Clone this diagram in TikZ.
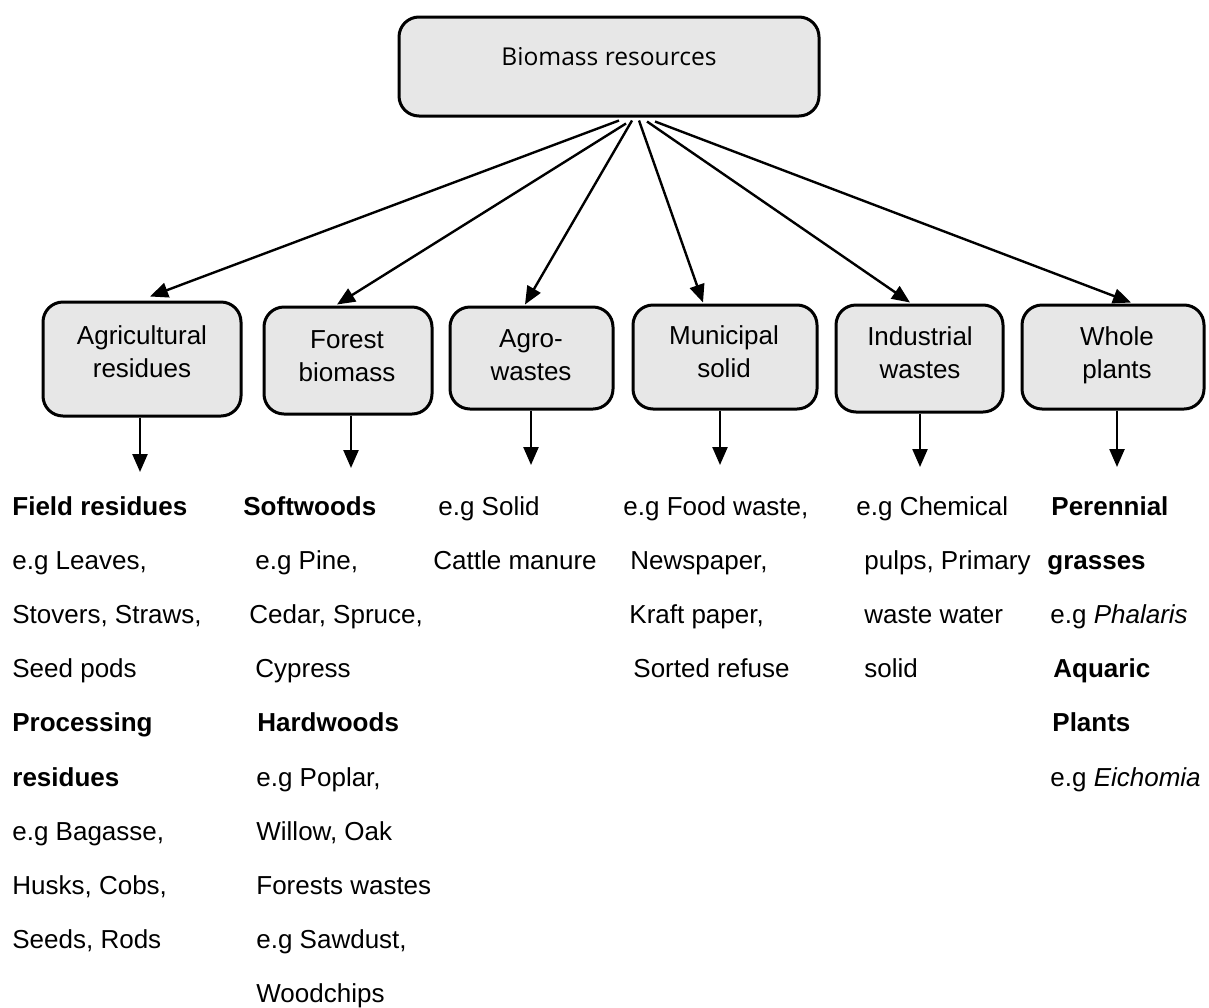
\documentclass[tikz,border=0pt]{standalone}
\usepackage{fontspec}
\setmainfont{Liberation Sans}
\newfontfamily\osans{Open Sans}
\usetikzlibrary{arrows.meta}
\definecolor{boxgray}{RGB}{231,231,231}
\begin{document}
\begin{tikzpicture}[x=0.5pt,y=-0.5pt,
  bx/.style={draw=black, line width=1.5pt, fill=boxgray, rounded corners=10pt, inner sep=0pt},
  btxt/.style={align=center, inner sep=0pt, font=\fontsize{13}{16.5}\selectfont},
  ltxt/.style={anchor=base west, inner sep=0pt, font=\fontsize{13}{16}\selectfont},
  arr/.style={line width=1.2pt, -{Triangle[length=9pt,width=7.5pt]}}
]
\useasboundingbox (0,0) rectangle (1209,1007);

% top box
\node[bx, minimum width=210pt, minimum height=49.5pt, text height=6pt, text depth=7.5pt,
      font=\osans\fontsize{12.3}{15}\selectfont] (bio) at (609,66.5) {Biomass resources};

% category boxes
\node[bx, minimum width=99pt,   minimum height=57pt]   (agri)   at (142,359)   {};
\node[bx, minimum width=84pt,   minimum height=53.5pt] (forest) at (348,360.5) {};
\node[bx, minimum width=81.5pt, minimum height=51pt]   (agro)   at (531.5,358) {};
\node[bx, minimum width=92pt,   minimum height=52pt]   (muni)   at (725,357)   {};
\node[bx, minimum width=83.5pt, minimum height=53.5pt] (indus)  at (919.5,358.5) {};
\node[bx, minimum width=91pt,   minimum height=52pt]   (whole)  at (1113,357)  {};

\node[btxt] (agriT)   at (142,351.5) {Agricultural\\residues};
\node[btxt] (forestT) at (347,356)   {Forest\\biomass};
\node[btxt] (agroT)   at (531,355)   {Agro-\\wastes};
\node[btxt] (muniT)   at (724,352)   {Municipal\\solid};
\node[btxt] (indusT)  at (920,352.5) {Industrial\\wastes};
\node[btxt] (wholeT)  at (1117,354.8){Whole\\plants};

% diagonal arrows
\draw[arr] ([xshift=5pt,yshift=-1.5pt]bio.south)    -- ([xshift=4pt,yshift=2pt]agri.north);
\draw[arr] ([xshift=8.5pt,yshift=-3pt]bio.south)    -- ([xshift=-5.5pt,yshift=0.5pt]forest.north);
\draw[arr] ([xshift=11.5pt,yshift=-1.5pt]bio.south) -- ([xshift=-3.25pt,yshift=0.5pt]agro.north);
\draw[arr] ([xshift=15pt,yshift=-1.5pt]bio.south)   -- ([xshift=-11pt,yshift=0.5pt]muni.north);
\draw[arr] ([xshift=19pt,yshift=-2pt]bio.south)     -- ([xshift=-4.75pt,yshift=0.5pt]indus.north);
\draw[arr] ([xshift=23pt,yshift=-2pt]bio.south)     -- ([xshift=9pt,yshift=0.5pt]whole.north);

% down arrows
\coordinate (agriE)   at (140,472);
\coordinate (forestE) at (351,468);
\coordinate (agroE)   at (531,465);
\coordinate (muniE)   at (720,465);
\coordinate (indusE)  at (920,467);
\coordinate (wholeE)  at (1117,467);
\draw[arr] (agri.south -| agriE)     -- (agriE);
\draw[arr] (forest.south -| forestE) -- (forestE);
\draw[arr] (agro.south -| agroE)     -- (agroE);
\draw[arr] (muni.south -| muniE)     -- (muniE);
\draw[arr] (indus.south -| indusE)   -- (indusE);
\draw[arr] (whole.south -| wholeE)   -- (wholeE);

% column 1
\node[ltxt] (a0) at (12,515)    {\textbf{Field residues}};
\node[ltxt] (a1) at (12,569.2)  {e.g Leaves,};
\node[ltxt] (a2) at (12,623.4)  {Stovers, Straws,};
\node[ltxt] (a3) at (12,677.6)  {Seed pods};
\node[ltxt] (a4) at (12,731.8)  {\textbf{Processing}};
\node[ltxt] (a5) at (12,786)    {\textbf{residues}};
\node[ltxt] (a6) at (12,840.2)  {e.g Bagasse,};
\node[ltxt] (a7) at (12,894.4)  {Husks, Cobs,};
\node[ltxt] (a8) at (12,948.6)  {Seeds, Rods};

% column 2
\node[ltxt] (b0) at (243,515)    {\textbf{Softwoods}};
\node[ltxt] (b1) at (255,569.2)  {e.g Pine,};
\node[ltxt] (b2) at (249,623.4)  {Cedar, Spruce,};
\node[ltxt] (b3) at (255,677.6)  {Cypress};
\node[ltxt] (b4) at (257,731.8)  {\textbf{Hardwoods}};
\node[ltxt] (b5) at (256,786)    {e.g Poplar,};
\node[ltxt] (b6) at (256,840.2)  {Willow, Oak};
\node[ltxt] (b7) at (256,894.4)  {Forests wastes};
\node[ltxt] (b8) at (256,948.6)  {e.g Sawdust,};
\node[ltxt] (b9) at (256,1002.8) {Woodchips};

% column 3
\node[ltxt] (c0) at (438,515)   {e.g Solid};
\node[ltxt] (c1) at (433,569.2) {Cattle manure};

% column 4
\node[ltxt] (d0) at (623,515)   {e.g Food waste,};
\node[ltxt] (d1) at (630,569.2) {Newspaper,};
\node[ltxt] (d2) at (629,623.4) {Kraft paper,};
\node[ltxt] (d3) at (633,677.6) {Sorted refuse};

% column 5
\node[ltxt] (e0) at (856,515)   {e.g Chemical};
\node[ltxt] (e1) at (864,569.2) {pulps, Primary};
\node[ltxt] (e2) at (864,623.4) {waste water};
\node[ltxt] (e3) at (864,677.6) {solid};

% column 6
\node[ltxt] (f0) at (1051,515)   {\textbf{Perennial}};
\node[ltxt] (f1) at (1047,569.2) {\textbf{grasses}};
\node[ltxt] (f2) at (1050,623.4) {e.g \textit{Phalaris}};
\node[ltxt] (f3) at (1053,677.6) {\textbf{Aquaric}};
\node[ltxt] (f4) at (1052,731.8) {\textbf{Plants}};
\node[ltxt] (f5) at (1050,786)   {e.g \textit{Eichomia}};
\end{tikzpicture}
\end{document}
